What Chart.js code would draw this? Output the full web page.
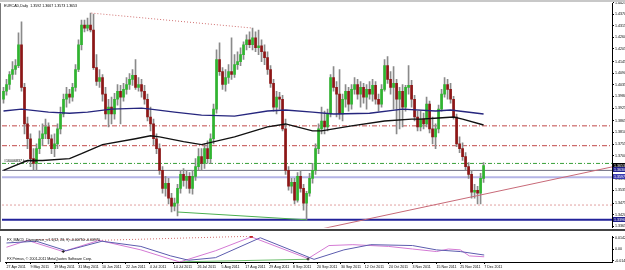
<!DOCTYPE html>
<html>
<head>
<meta charset="utf-8">
<script src="https://cdn.jsdelivr.net/npm/chart.js@4.4.0/dist/chart.umd.min.js"></script>
<style>
  html, body { margin: 0; padding: 0; background: #fff; }
  #wrap { position: relative; width: 625px; height: 270px; overflow: hidden; }
  #topbar { position: absolute; left: 0; top: 0; width: 625px; height: 2px; background: #c8c8c8; }
  #main { position: absolute; left: 0; top: 0; }
  #macd { position: absolute; left: 0; top: 231px; }
</style>
</head>
<body>
<div id="wrap">
  <canvas id="main" width="625" height="231"></canvas>
  <canvas id="macd" width="625" height="39"></canvas>
  <div id="topbar"></div>
</div>
<script>
// EURCAD daily, 27 Apr 2011 .. 7 Dec 2011 (one bar per trading day)
const dateTicks = ['27 Apr 2011', '9 May 2011', '19 May 2011', '31 May 2011', '10 Jun 2011', '22 Jun 2011',
  '4 Jul 2011', '14 Jul 2011', '26 Jul 2011', '5 Aug 2011', '17 Aug 2011', '29 Aug 2011', '8 Sep 2011',
  '20 Sep 2011', '30 Sep 2011', '12 Oct 2011', '24 Oct 2011', '3 Nov 2011', '15 Nov 2011', '25 Nov 2011', '7 Dec 2011'];

const priceTicks = [1.4425, 1.4370, 1.4315, 1.4260, 1.4205, 1.4145, 1.4090, 1.4035, 1.3980, 1.3925,
  1.3865, 1.3810, 1.3755, 1.3700, 1.3645, 1.3590, 1.3535, 1.3475, 1.3420, 1.3365];

const firstOpen = 1.3967;
const close = [
  1.4005, 1.4037, 1.4084, 1.4108, 1.4126, 1.4225, 1.4023, 1.3850, 1.3780, 1.3686,
  1.3663, 1.3733, 1.3780, 1.3803, 1.3836, 1.3780, 1.3733, 1.3756, 1.3827, 1.3897,
  1.3967, 1.3991, 1.3977, 1.4023, 1.4108, 1.4225, 1.4318, 1.4304, 1.4318, 1.4295,
  1.4117, 1.4051, 1.4070, 1.3991, 1.3897, 1.3930, 1.3897, 1.3967, 1.4005, 1.3977,
  1.4014, 1.4037, 1.4061, 1.4080, 1.4023, 1.4037, 1.4005, 1.3967, 1.3883, 1.3850,
  1.3780, 1.3733, 1.3630, 1.3545, 1.3569, 1.3499, 1.3461, 1.3475, 1.3545, 1.3611,
  1.3583, 1.3602, 1.3545, 1.3602, 1.3648, 1.3695, 1.3663, 1.3733, 1.3686, 1.3780,
  1.3920, 1.4155, 1.4098, 1.4037, 1.4070, 1.4098, 1.4084, 1.4131, 1.4145, 1.4178,
  1.4225, 1.4248, 1.4225, 1.4258, 1.4211, 1.4220, 1.4192, 1.4164, 1.4108, 1.4042,
  1.3930, 1.3977, 1.3967, 1.3827, 1.3630, 1.3555, 1.3573, 1.3489, 1.3602, 1.3545,
  1.3475, 1.3522, 1.3592, 1.3630, 1.3733, 1.3827, 1.3864, 1.3836, 1.3897, 1.4070,
  1.4023, 1.3991, 1.3897, 1.3967, 1.4005, 1.3944, 1.4014, 1.4037, 1.3991, 1.4023,
  1.3977, 1.4014, 1.3991, 1.4033, 1.3967, 1.3944, 1.4014, 1.4126, 1.4061, 1.4023,
  1.4042, 1.3967, 1.4005, 1.3930, 1.4023, 1.4033, 1.3967, 1.3883, 1.3836, 1.3873,
  1.3850, 1.3944, 1.3827, 1.3789, 1.3827, 1.3920, 1.3991, 1.4037, 1.4014, 1.3967,
  1.3883, 1.3756, 1.3733, 1.3695, 1.3648, 1.3611, 1.3527, 1.3536, 1.3522, 1.3592,
  1.3653];
const high = [
  1.4023, 1.4061, 1.4098, 1.4145, 1.4155, 1.4281, 1.4333, 1.4042, 1.3883, 1.3803,
  1.3733, 1.3756, 1.3817, 1.3850, 1.3873, 1.3855, 1.3799, 1.3803, 1.3850, 1.3930,
  1.3991, 1.4023, 1.4014, 1.4042, 1.4131, 1.4248, 1.4342, 1.4342, 1.4351, 1.4375,
  1.4370, 1.4178, 1.4108, 1.4084, 1.4023, 1.3967, 1.3977, 1.3995, 1.4037, 1.4033,
  1.4042, 1.4070, 1.4089, 1.4108, 1.4155, 1.4070, 1.4061, 1.4033, 1.3991, 1.3930,
  1.3873, 1.3803, 1.3756, 1.3648, 1.3602, 1.3592, 1.3522, 1.3499, 1.3564, 1.3630,
  1.3639, 1.3630, 1.3620, 1.3630, 1.3686, 1.3733, 1.3733, 1.3756, 1.3770, 1.3803,
  1.3944, 1.4201, 1.4234, 1.4117, 1.4108, 1.4131, 1.4258, 1.4178, 1.4192, 1.4211,
  1.4239, 1.4272, 1.4286, 1.4304, 1.4286, 1.4295, 1.4248, 1.4225, 1.4192, 1.4126,
  1.4061, 1.4005, 1.4000, 1.3986, 1.3873, 1.3648, 1.3592, 1.3592, 1.3620, 1.3630,
  1.3564, 1.3531, 1.3616, 1.3663, 1.3756, 1.3850, 1.3930, 1.3911, 1.3920, 1.4084,
  1.4122, 1.4051, 1.4108, 1.3991, 1.4037, 1.4023, 1.4037, 1.4070, 1.4061, 1.4051,
  1.4042, 1.4037, 1.4051, 1.4061, 1.4051, 1.3991, 1.4037, 1.4155, 1.4169, 1.4098,
  1.4122, 1.4061, 1.4023, 1.4037, 1.4033, 1.4126, 1.4056, 1.3986, 1.3911, 1.3911,
  1.3901, 1.3977, 1.3958, 1.3883, 1.3850, 1.3939, 1.4014, 1.4070, 1.4061, 1.4042,
  1.3981, 1.3897, 1.3789, 1.3761, 1.3714, 1.3667, 1.3630, 1.3564, 1.3555, 1.3616,
  1.3667];
const low = [
  1.3948, 1.3986, 1.4014, 1.4061, 1.4084, 1.4117, 1.4005, 1.3803, 1.3733, 1.3648,
  1.3630, 1.3630, 1.3709, 1.3747, 1.3780, 1.3756, 1.3709, 1.3695, 1.3733, 1.3803,
  1.3883, 1.3930, 1.3948, 1.3958, 1.4005, 1.4098, 1.4201, 1.4286, 1.4290, 1.4286,
  1.4108, 1.4033, 1.4023, 1.3958, 1.3873, 1.3836, 1.3850, 1.3873, 1.3939, 1.3850,
  1.3958, 1.3991, 1.4014, 1.4033, 1.4014, 1.4005, 1.3977, 1.3944, 1.3864, 1.3817,
  1.3752, 1.3709, 1.3611, 1.3522, 1.3508, 1.3471, 1.3433, 1.3438, 1.3414, 1.3522,
  1.3555, 1.3545, 1.3522, 1.3517, 1.3583, 1.3630, 1.3630, 1.3639, 1.3663, 1.3663,
  1.3756, 1.3901, 1.4080, 1.4014, 1.4005, 1.4042, 1.4061, 1.4070, 1.4108, 1.4126,
  1.4155, 1.4201, 1.4211, 1.4201, 1.4192, 1.4178, 1.4145, 1.4131, 1.4084, 1.4023,
  1.3911, 1.3897, 1.3920, 1.3817, 1.3611, 1.3536, 1.3522, 1.3471, 1.3480, 1.3527,
  1.3442, 1.3396, 1.3508, 1.3569, 1.3611, 1.3709, 1.3803, 1.3803, 1.3817, 1.3883,
  1.4005, 1.3883, 1.3873, 1.3864, 1.3930, 1.3911, 1.3920, 1.3991, 1.3967, 1.3930,
  1.3948, 1.3920, 1.3967, 1.3958, 1.3944, 1.3911, 1.3930, 1.4005, 1.4042, 1.3991,
  1.3920, 1.3803, 1.3827, 1.3836, 1.3911, 1.3991, 1.3930, 1.3864, 1.3817, 1.3817,
  1.3827, 1.3836, 1.3808, 1.3756, 1.3733, 1.3808, 1.3911, 1.3977, 1.3967, 1.3948,
  1.3873, 1.3742, 1.3714, 1.3677, 1.3630, 1.3592, 1.3499, 1.3499, 1.3471, 1.3471,
  1.3573];

// moving averages read at a few bars: [bar, price]
const maSlow = [[0, 1.3911], [6, 1.3920], [15, 1.3906], [22, 1.3901], [28, 1.3906], [36, 1.3920], [46, 1.3925],
  [49, 1.3920], [57, 1.3906], [66, 1.3892], [77, 1.3887], [88, 1.3911], [94, 1.3916], [103, 1.3906],
  [110, 1.3897], [122, 1.3901], [133, 1.3920], [144, 1.3911], [149, 1.3916], [160, 1.3897]];
const maFast = [[0, 1.3630], [3, 1.3648], [8, 1.3677], [13, 1.3677], [22, 1.3686], [26, 1.3709], [33, 1.3752],
  [44, 1.3780], [49, 1.3794], [52, 1.3789], [60, 1.3766], [66, 1.3752], [77, 1.3789], [88, 1.3836],
  [94, 1.3850], [103, 1.3817], [106, 1.3817], [116, 1.3841], [127, 1.3864], [136, 1.3873], [139, 1.3873],
  [145, 1.3878], [150, 1.3883], [153, 1.3873], [160, 1.3845]];

// horizontal levels
const stopLevels = [1.3841, 1.3747];
const orderLevel = 1.3663;
const greyLevel = 1.3630;
const lilacLevel = 1.3597;
const pinkLevel = 1.3466;
const blueLevel = 1.3396;

// trend lines: [[bar, price], [bar, price]]
const topTrend = [[29.3, 1.4375], [83, 1.4304]];
const lowTrend = [[58, 1.3433], [101, 1.3396]];
const riseTrend = [[106, 1.3353], [203.3, 1.3648]];

// MACD window
const macdMain = [[0, 0.0075], [10, 0.0097], [20, -0.0022], [32, 0.0097], [45, 0.0032], [55, -0.0086],
  [61, -0.0140], [70, -0.0108], [85, 0.0140], [103, -0.0129], [113, -0.0011], [122, 0.0054],
  [136, 0.0043], [144, -0.0011], [152, -0.0032], [160, -0.0075]];
const macdSignal = [[0, 0.0022], [7, 0.0108], [19, -0.0032], [31, 0.0108], [45, -0.0011], [58, -0.0162],
  [70, -0.0022], [82, 0.0151], [101, -0.0119], [108, 0.0043], [116, 0.0054], [128, 0.0032], [136, 0],
  [144, -0.0032], [148, 0], [152, -0.0011], [155, -0.0086], [160, -0.0097]];
const macdTopDiv = [[10, 0.0118], [31, 0.0118]];
const macdHighDiv = [[31, 0.0108], [83, 0.0160]];
const macdLowDiv = [[58, -0.0160], [101, -0.0128]];
const macdCrosses = [[19, -0.0032], [101, -0.0125]];
const macdArrows = [[82, 0.0156]];
const macdTicks = [0.0142, 0, -0.0148];
const macdTickLabels = ['0.01425', '0.00', '-0.01485'];

const titleText = 'EURCAD,Daily  1.3592 1.3667 1.3573 1.3653';
const orderText = '#16006837 buy 0.10';
const macdTitle = 'FX_MACD_Divergence_v1.1(12, 26, 9) -0.00750 -0.00970';
const copyText = 'FX Primus, \u00a9 2001-2011 MetaQuotes Software Corp.';

const X_MIN = -0.5;
const X_MAX = 202.8;
const FONT = "'Liberation Sans', Arial, sans-serif";
Chart.defaults.font.family = FONT;
Chart.defaults.font.size = 3.6;
Chart.defaults.color = '#000';

const open = close.map((c, i) => (i === 0 ? firstOpen : close[i - 1]));
const bull = '#2fb52f';
const bear = '#8e1616';

const pts = arr => arr.map(([x, y]) => ({ x, y }));
const line = (data, color, width, dash, order) => ({
  type: 'line', data: pts(data), borderColor: color, borderWidth: width,
  borderDash: dash || [], pointRadius: 0, tension: 0, order: order
});
const level = (p, color, width, dash) => line([[X_MIN, p], [X_MAX, p]], color, width, dash, 9);
const marks = (data, color, style, r) => ({
  type: 'scatter', data: pts(data), pointStyle: style, pointRadius: r, rotation: 0,
  borderColor: color, backgroundColor: color, borderWidth: 1, order: 0
});

const mainOverlay = {
  id: 'mainOverlay',
  afterDraw(chart) {
    const { ctx, chartArea: a, scales: { y } } = chart;
    ctx.save();
    ctx.fillStyle = '#777';
    ctx.fillRect(0, a.top, 1, a.bottom - a.top + 1);
    ctx.fillStyle = '#444';
    ctx.fillRect(0, 229, 625, 2);
    ctx.font = '3.6px ' + FONT;
    ctx.textBaseline = 'top';
    ctx.fillStyle = '#000';
    ctx.fillText(titleText, a.left + 2, a.top + 1);
    ctx.fillText(orderText, a.left + 2, y.getPixelForValue(orderLevel) - 4);
    // price boxes on the axis
    const boxes = [[close[close.length - 1], '#000'], [greyLevel, '#20208c'], [lilacLevel, '#3a3ab0'], [blueLevel, '#20208c']];
    boxes.forEach(([p, bg]) => {
      const py = Math.round(y.getPixelForValue(p));
      ctx.fillStyle = bg;
      ctx.fillRect(a.right + 1, py - 3, 12, 5);
      ctx.fillStyle = '#fff';
      ctx.textBaseline = 'middle';
      ctx.fillText(p.toFixed(4), a.right + 2, py - 0.5);
    });
    ctx.restore();
  }
};

new Chart(document.getElementById('main'), {
  type: 'bar',
  data: {
    datasets: [
      level(stopLevels[0], '#c04848', 1, [5, 2, 1, 2]),
      level(stopLevels[1], '#c04848', 1, [5, 2, 1, 2]),
      level(orderLevel, '#3aa03a', 1, [4, 2, 1, 2]),
      level(greyLevel, '#6e6e80', 1),
      level(lilacLevel, '#b4b4e6', 2),
      level(pinkLevel, '#e2a0a0', 1, [2, 2]),
      level(blueLevel, '#22229a', 2),
      {
        type: 'bar', order: 6, grouped: false, barThickness: 1,
        data: close.map((c, i) => ({ x: i, y: [low[i], high[i]] })),
        backgroundColor: '#8a8a8a'
      },
      {
        type: 'bar', order: 5, grouped: false, barThickness: 2, minBarLength: 1,
        data: close.map((c, i) => ({ x: i, y: [open[i], c] })),
        backgroundColor: ctx => (close[ctx.dataIndex] >= open[ctx.dataIndex] ? bull : bear)
      },
      line(maSlow, '#26267e', 1.4, [], 3),
      line(maFast, '#111111', 1.4, [], 3),
      line(topTrend, '#d07070', 1, [1, 2], 1),
      line(lowTrend, '#4caf50', 1, [], 1),
      line(riseTrend, '#c86a78', 1, [], 1)
    ]
  },
  options: {
    responsive: false,
    animation: false,
    events: [],
    layout: { padding: { left: 2, top: 3, right: 0, bottom: 1 } },
    plugins: { legend: { display: false }, tooltip: { enabled: false } },
    scales: {
      x: { type: 'linear', offset: false, min: X_MIN, max: X_MAX, display: false },
      y: {
        position: 'right', min: 1.3358, max: 1.4422,
        afterBuildTicks: s => { s.ticks = priceTicks.map(v => ({ value: v })); },
        afterFit: s => { s.width = 13; },
        ticks: { padding: 1, callback: v => v.toFixed(4) },
        grid: { drawOnChartArea: false, tickLength: 2, color: '#000' },
        border: { color: '#000' }
      }
    }
  },
  plugins: [mainOverlay]
});

const macdOverlay = {
  id: 'macdOverlay',
  afterDraw(chart) {
    const { ctx, chartArea: a } = chart;
    ctx.save();
    ctx.fillStyle = '#777';
    ctx.fillRect(0, a.top, 1, a.bottom - a.top);
    ctx.font = '3.6px ' + FONT;
    ctx.textBaseline = 'top';
    ctx.fillStyle = '#000';
    ctx.fillText(macdTitle, a.left + 2, a.top + 2);
    ctx.fillText(copyText, a.left + 2, a.top + 21);
    ctx.restore();
  }
};

new Chart(document.getElementById('macd'), {
  type: 'line',
  data: {
    datasets: [
      line(macdTopDiv, '#d07070', 1, [1, 2], 2),
      line(macdHighDiv, '#d07070', 1, [1, 2], 2),
      line(macdLowDiv, '#6cbf6c', 1, [], 2),
      line(macdMain, '#5c5cae', 1, [], 1),
      line(macdSignal, '#d47ad4', 1, [], 1),
      marks(macdCrosses, '#222', 'cross', 1.5),
      marks(macdArrows, '#c02020', 'triangle', 1.5)
    ]
  },
  options: {
    responsive: false,
    animation: false,
    events: [],
    layout: { padding: { left: 2, top: 1, right: 0, bottom: 0 } },
    plugins: { legend: { display: false }, tooltip: { enabled: false } },
    scales: {
      x: {
        type: 'linear', offset: false, min: X_MIN, max: X_MAX,
        afterBuildTicks: s => { s.ticks = dateTicks.map((d, k) => ({ value: k * 8 })); },
        afterFit: s => { s.height = 8; },
        ticks: { align: 'start', autoSkip: false, maxRotation: 0, padding: 1, callback: (v, k) => dateTicks[k] },
        grid: { drawOnChartArea: false, tickLength: 2, color: '#000' },
        border: { color: '#000' }
      },
      y: {
        position: 'right', min: -0.0162, max: 0.0162,
        afterBuildTicks: s => { s.ticks = macdTicks.map(v => ({ value: v })); },
        afterFit: s => { s.width = 13; },
        ticks: { padding: 1, callback: (v, k) => macdTickLabels[k] },
        grid: { drawOnChartArea: false, tickLength: 2, color: '#000' },
        border: { color: '#000' }
      }
    }
  },
  plugins: [macdOverlay]
});
</script>
</body>
</html>
